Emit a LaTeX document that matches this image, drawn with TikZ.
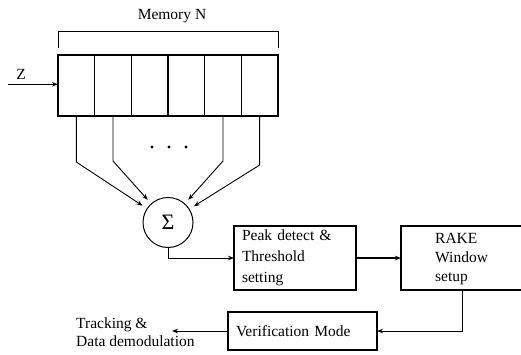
\documentclass[tikz,border=0pt]{standalone}
\usepackage{fontspec}
\setmainfont{Liberation Serif}
\usetikzlibrary{arrows.meta,calc}
\begin{document}
\begin{tikzpicture}[x=1pt,y=-1pt,
  font=\fontsize{15.5}{21}\selectfont,
  cell/.style={draw,line width=1.3pt,minimum width=36.667pt,minimum height=61pt,inner sep=0pt,outer sep=0pt},
  blockbox/.style={draw,line width=1.2pt,inner sep=0pt,outer sep=0pt},
  conn/.style={line width=0.9pt,-{Stealth[length=6pt,width=4.5pt]}},
  textblock/.style={anchor=north west,align=left,inner sep=0pt},
]
\useasboundingbox (0,0) rectangle (521,354);

% shift-register memory of six cells
\foreach \i in {1,...,6}
  \node[cell] (c\i) at ({58+36.667*(\i-0.5)},85.5) {};

% bracket spanning the memory and its label
\draw[line width=1pt] ($(c1.north west)+(0,-7)$) -- ++(0,-17)
  -| ($(c6.north east)+(0,-7)$);
\node (memlabel) at (172,16) {Memory N};

% input
\node (zlabel) at (21,74) {Z};
\coordinate (zin) at (8,84.3);
\draw[conn] (zin) -- (zin -| c1.west);

% summing node
\node[circle,draw,line width=1pt,minimum size=50pt,inner sep=0pt] (sum)
  at (168,222.5) {\fontsize{22}{22}\selectfont Σ};

% taps from the memory cells into the sum
\foreach \i/\by in {1/162,2/161,5/161,6/165}
  \draw[conn,shorten >=5pt] (c\i.south) -- (c\i.south |- 0,\by) -- (sum);

% ellipsis between the taps
\foreach \dx in {152,169,186}
  \fill (\dx,147) circle (1.6pt);

% processing blocks
\node[blockbox,minimum width=122pt,minimum height=64pt,text width=106pt,align=left]
  (peak) at (295,258) {Peak detect \&\\Threshold\\setting};
\node[blockbox,minimum width=122pt,minimum height=64pt] (rake) at (462,258) {};
\node[textblock,font=\fontsize{15.5}{19}\selectfont] (raketext) at (435,233.5)
  {RAKE\\Window\\setup};
\node[blockbox,minimum width=149pt,minimum height=38pt,text width=133pt,align=left]
  (verif) at (302.5,331) {Verification Mode};
\node[textblock,font=\fontsize{15.5}{18.5}\selectfont] (track) at (76,317.5)
  {Tracking \&\\Data demodulation};
\coordinate (trackend) at (172,331);

% connectors between blocks
\draw[conn] (sum.south) |- (peak.west);
\draw[conn,line width=1.8pt] (peak.east) -- (rake.west);
\draw[conn] (rake.south) |- (verif.east);
\draw[conn] (verif.west) -- (trackend);
\end{tikzpicture}
\end{document}
